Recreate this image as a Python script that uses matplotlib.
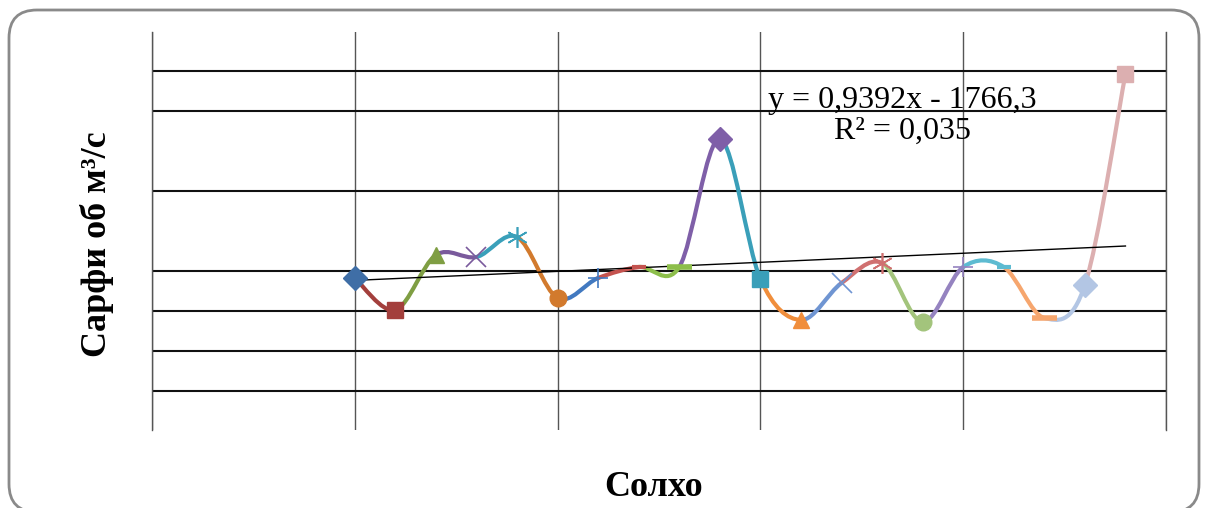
# -*- coding: utf-8 -*-
"""Сарфи об м³/с by year: smoothed Excel-style line with per-point colours."""
import matplotlib as mpl
mpl.use("Agg")
import matplotlib.pyplot as plt
import numpy as np
from matplotlib.path import Path
from matplotlib.patches import PathPatch, FancyBboxPatch
from matplotlib.transforms import IdentityTransform

# --- data --------------------------------------------------------------------
years = [1990, 1991, 1992, 1993, 1994, 1995, 1996, 1997, 1998, 1999,
         2000, 2001, 2002, 2003, 2004, 2005, 2006, 2007, 2008, 2009]
flow = [104.2, 88.2, 115.7, 114.7, 124.7, 94.2, 104.2, 109.7, 109.7, 173.7,
        103.7, 83.2, 101.7, 111.7, 82.2, 109.7, 109.7, 84.2, 100.7, 206.2]

eq_text = "y = 0,9392x - 1766,3\nR\u00b2 = 0,035"
x_label = "Солхо"
y_label = "Сарфи об м\u00b3/с"

# Excel "vary colours by point" look
point_colors = ["#3F6EA6", "#A33F3C", "#7F9E43", "#7A5A9C", "#3AA0BA",
                "#D27A2D", "#4279C0", "#C4534F", "#8DBE4B", "#7F5FA8",
                "#3A9FB9", "#F08E3C", "#6F95D2", "#D07070", "#A3C47C",
                "#9583C0", "#5DBBD1", "#F6A66E", "#B3C6E4", "#DCAFB0"]
markers = ["D", "s", "^", "x", (6, 2, 0), "o", "+", "_", "_"]
hgrid = [47.7, 67.7, 87.7, 107.7, 147.7, 187.7, 207.7]

# --- figure ------------------------------------------------------------------
fig = plt.figure(figsize=(12.08, 5.08), dpi=100)
ax = fig.add_axes([152 / 1208, 1 - 430 / 508, (1166 - 152) / 1208, 398 / 508])

ax.set_xlim(1985, 2010)
ax.set_ylim(28.2, 227.2)
ax.set_xticks(range(1985, 2011, 5))
ax.set_yticks(hgrid)
ax.tick_params(length=0, labelbottom=False, labelleft=False)
for s in ("top", "bottom"):
    ax.spines[s].set_visible(False)
for s in ("left", "right"):
    ax.spines[s].set_color("#555555")
    ax.spines[s].set_linewidth(1.0)
ax.grid(True, axis="x", color="#555555", lw=1.0)
ax.grid(True, axis="y", color="#111111", lw=1.5)
ax.set_axisbelow(True)

# smoothed segments (Catmull-Rom as cubic Bezier, like Excel smooth lines)
x = np.array(years, dtype=float)
y = np.array(flow, dtype=float)
n = len(x)
for i in range(n - 1):
    i0, i3 = max(i - 1, 0), min(i + 2, n - 1)
    p0 = (x[i], y[i])
    p3 = (x[i + 1], y[i + 1])
    c1 = (x[i] + (x[i + 1] - x[i0]) / 6, y[i] + (y[i + 1] - y[i0]) / 6)
    c2 = (x[i + 1] - (x[i3] - x[i]) / 6, y[i + 1] - (y[i3] - y[i]) / 6)
    path = Path([p0, c1, c2, p3],
                [Path.MOVETO, Path.CURVE4, Path.CURVE4, Path.CURVE4])
    ax.add_patch(PathPatch(path, fill=False, ec=point_colors[i + 1],
                           lw=3.0, capstyle="round", zorder=3))

for i in range(n):
    m = markers[i % len(markers)]
    ms, mew = 12, 1.0
    if m in ("x", "+") or isinstance(m, tuple):
        ms, mew = 15, 1.2
    if m == "_":
        ms, mew = (10, 3.0) if i % len(markers) == 7 else (18, 4.0)
    ax.plot(x[i], y[i], marker=m, ms=ms, color=point_colors[i],
            mec=point_colors[i], mew=mew, ls="none", zorder=4)

# linear trendline
k, b = np.polyfit(x, y, 1)
ax.plot([x[0], x[-1]], [k * x[0] + b, k * x[-1] + b], color="black",
        lw=1.0, zorder=3.5)

fig.text(902 / 1208, 1 - 116 / 508, eq_text, ha="center", va="center",
         family="Liberation Serif", fontsize=23, linespacing=1.12)

fig.text(97 / 1208, 1 - 244 / 508, y_label, rotation=90, ha="center",
         va="center", family="Liberation Serif", weight="bold", fontsize=26)
fig.text(654 / 1208, 1 - 488 / 508, x_label, ha="center", va="center",
         family="Liberation Serif", weight="bold", fontsize=26)

# rounded chart-area border
border = FancyBboxPatch((9, -4), 1190, 502,
                        boxstyle="round,pad=0,rounding_size=28",
                        transform=IdentityTransform(), fill=False,
                        ec="#8a8a8a", lw=2.0)
fig.patches.append(border)

fig.savefig("out.png", dpi=100)
plt.close(fig)
